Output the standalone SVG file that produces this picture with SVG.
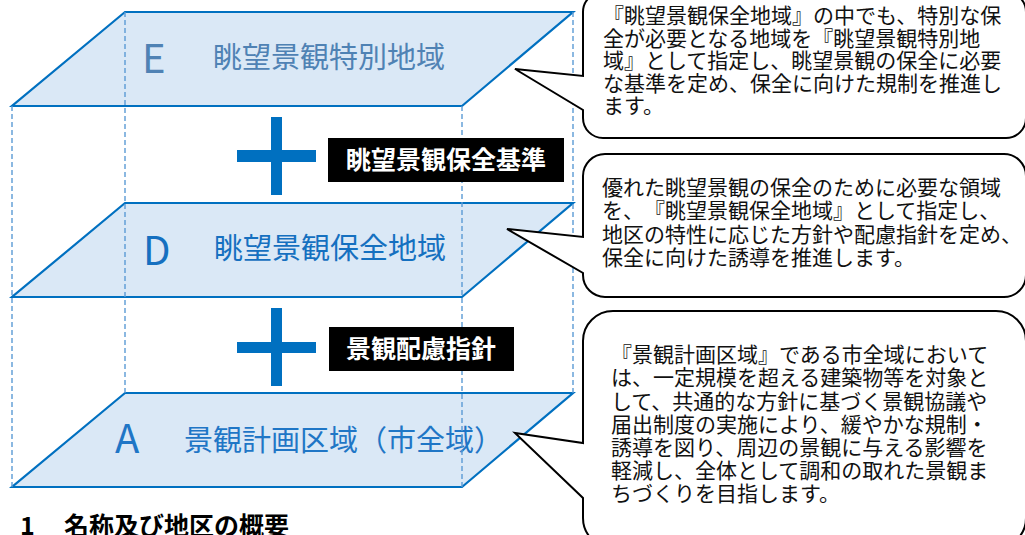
<svg xmlns="http://www.w3.org/2000/svg" width="1025" height="535" viewBox="0 0 1025 535">
<style>
text{text-spacing-trim:space-all}
.para{fill:#DAE8F6;stroke:#0070C0;stroke-width:2.2;stroke-linejoin:miter}
.dash{stroke:#5B9BD5;stroke-width:1.4;stroke-dasharray:5 3;fill:none}
.plus{fill:#0070C0}
.lbl{fill:#000}
.lbltx{font-family:"Noto Sans CJK JP",sans-serif;font-weight:bold;font-size:25px;fill:#fff;text-anchor:middle}
.call{fill:#fff;stroke:#000;stroke-width:2;stroke-linejoin:miter}
.ctx{font-family:"Noto Sans CJK JP",sans-serif;font-size:21px;fill:#111}
.let{font-family:"Noto Sans CJK JP",sans-serif;font-size:40px}
.nm{font-family:"Noto Sans CJK JP",sans-serif;font-size:29px}
.hd{font-family:"Noto Sans CJK JP",sans-serif;font-weight:bold;font-size:25px;fill:#000}
</style>
<rect x="0" y="0" width="1025" height="535" fill="#fff"/>

<g id="layerE">
<polygon class="para" points="125,12 573,12 462,106 12,106"/>
<text class="let" x="142" y="73" fill="#4F82B4">E</text>
<text class="nm" x="213" y="68" fill="#4F82B4">眺望景観特別地域</text>
</g>

<g id="layerD">
<polygon class="para" points="125,203 573,203 462,297 12,297"/>
<text class="let" x="143" y="265" fill="#1570C0">D</text>
<text class="nm" x="214" y="259" fill="#1570C0">眺望景観保全地域</text>
</g>

<g id="layerA">
<polygon class="para" points="125,393 573,393 462,487 12,487"/>
<text class="let" x="115" y="453" fill="#1F76C6">A</text>
<text class="nm" x="184" y="451" fill="#1F76C6">景観計画区域（市全域）</text>
</g>

<g id="connectors">
<line class="dash" x1="125" y1="12" x2="125" y2="393"/>
<line class="dash" x1="573" y1="12" x2="573" y2="393"/>
<line class="dash" x1="12" y1="106" x2="12" y2="487"/>
<line class="dash" x1="462" y1="106" x2="462" y2="487"/>
</g>

<g id="plus1">
<rect class="plus" x="271" y="117" width="11" height="78"/>
<rect class="plus" x="237" y="150" width="79" height="12"/>
</g>
<g id="label1">
<rect class="lbl" x="328" y="138" width="236" height="44"/>
<text class="lbltx" x="446" y="169">眺望景観保全基準</text>
</g>

<g id="plus2">
<rect class="plus" x="271" y="308" width="11" height="78"/>
<rect class="plus" x="237" y="342" width="79" height="11"/>
</g>
<g id="label2">
<rect class="lbl" x="329" y="327" width="185" height="44"/>
<text class="lbltx" x="421" y="358">景観配慮指針</text>
</g>

<g id="callout1">
<path class="call" d="M603,-8 H1006 A20 20 0 0 1 1026,12 V118 A20 20 0 0 1 1006,138 H603 A20 20 0 0 1 583,118 V110 L515,69 L583,76 V12 A20 20 0 0 1 603,-8 Z"/>
<text class="ctx" x="603" y="23">『眺望景観保全地域』の中でも、特別な保</text>
<text class="ctx" x="603" y="45.5">全が必要となる地域を『眺望景観特別地</text>
<text class="ctx" x="603" y="68">域』として指定し、眺望景観の保全に必要</text>
<text class="ctx" x="603" y="90.5">な基準を定め、保全に向けた規制を推進し</text>
<text class="ctx" x="603" y="113">ます。</text>
</g>

<g id="callout2">
<path class="call" d="M605,154 H1004 A22 22 0 0 1 1026,176 V275 A22 22 0 0 1 1004,297 H605 A22 22 0 0 1 583,275 V273 L507,229 L583,237 V176 A22 22 0 0 1 605,154 Z"/>
<text class="ctx" x="602" y="195">優れた眺望景観の保全のために必要な領域</text>
<text class="ctx" x="602" y="218">を、『眺望景観保全地域』として指定し、</text>
<text class="ctx" x="602" y="241.5">地区の特性に応じた方針や配慮指針を定め、</text>
<text class="ctx" x="602" y="265">保全に向けた誘導を推進します。</text>
</g>

<g id="callout3">
<path class="call" d="M613,311 H996 A30 30 0 0 1 1026,341 V518 A30 30 0 0 1 996,548 H613 A30 30 0 0 1 583,518 V498 L515,433 L583,443 V341 A30 30 0 0 1 613,311 Z"/>
<text class="ctx" x="611" y="361.5">『景観計画区域』である市全域において</text>
<text class="ctx" x="611" y="385">は、一定規模を超える建築物等を対象と</text>
<text class="ctx" x="611" y="408.5">して、共通的な方針に基づく景観協議や</text>
<text class="ctx" x="611" y="432">届出制度の実施により、緩やかな規制・</text>
<text class="ctx" x="611" y="455">誘導を図り、周辺の景観に与える影響を</text>
<text class="ctx" x="611" y="478">軽減し、全体として調和の取れた景観ま</text>
<text class="ctx" x="611" y="500.5">ちづくりを目指します。</text>
</g>

<g id="heading">
<text class="hd" x="20" y="535">1</text>
<text class="hd" x="64" y="535">名称及び地区の概要</text>
</g>
</svg>
